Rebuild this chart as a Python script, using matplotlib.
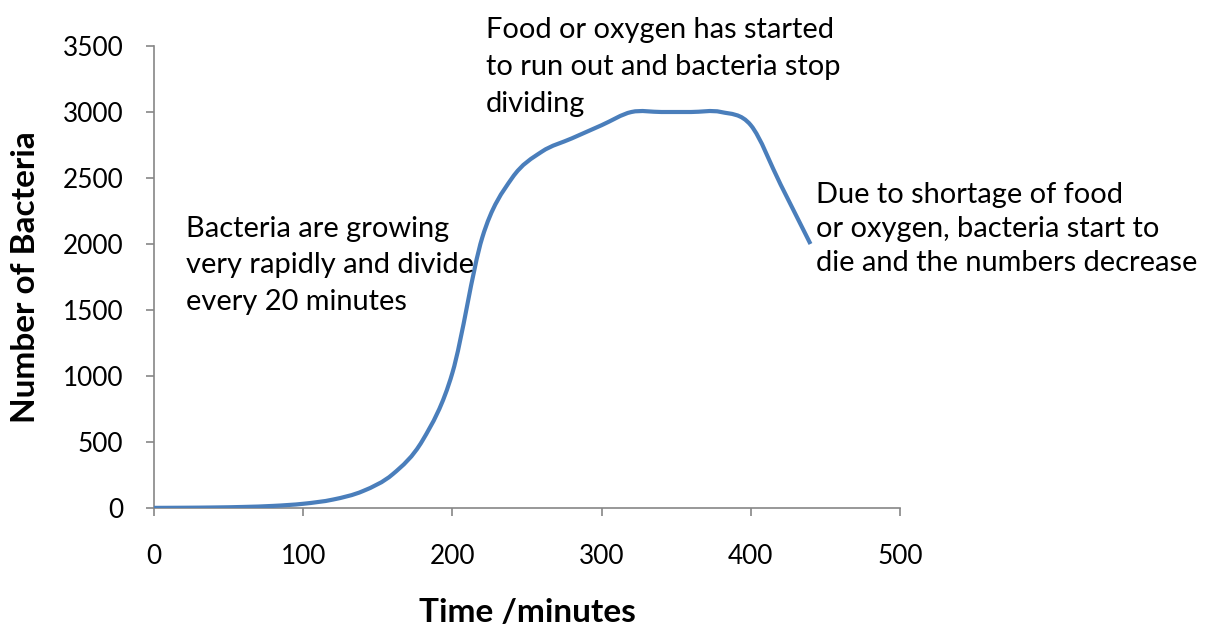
import matplotlib
matplotlib.use('Agg')
import matplotlib.pyplot as plt
from matplotlib.path import Path
from matplotlib.patches import PathPatch

plt.rcParams['font.family'] = ['Lato', 'DejaVu Sans']

# ---- data ----
time_min = [0, 20, 40, 60, 80, 100, 120, 140, 160, 180, 200, 220,
            240, 260, 280, 300, 320, 340, 360, 380, 400, 420, 440]
bacteria = [1, 2, 4, 8, 16, 32, 64, 128, 256, 512, 1024, 2048,
            2500, 2700, 2800, 2900, 3000, 3000, 3000, 3000, 2900, 2450, 2000]
x_ticks = [0, 100, 200, 300, 400, 500]
y_ticks = [0, 500, 1000, 1500, 2000, 2500, 3000, 3500]

note_growth = ['Bacteria are growing', 'very rapidly and divide', 'every 20 minutes']
note_plateau = ['Food or oxygen has started', 'to run out and bacteria stop', 'dividing']
note_decline = ['Due to shortage of food', 'or oxygen, bacteria start to', 'die and the numbers decrease']

W, H = 1211, 631
fig = plt.figure(figsize=(W / 100, H / 100), dpi=100)
ax = fig.add_axes([154 / W, 1 - 508 / H, (900 - 154) / W, (508 - 46) / H])

# smoothed line like a spreadsheet "smoothed line" (Catmull-Rom as bezier)
pts = list(zip(time_min, bacteria))
verts = [pts[0]]
codes = [Path.MOVETO]
n = len(pts)
for i in range(n - 1):
    p0 = pts[max(i - 1, 0)]
    p1 = pts[i]
    p2 = pts[i + 1]
    p3 = pts[min(i + 2, n - 1)]
    c1 = (p1[0] + (p2[0] - p0[0]) / 6, p1[1] + (p2[1] - p0[1]) / 6)
    c2 = (p2[0] - (p3[0] - p1[0]) / 6, p2[1] - (p3[1] - p1[1]) / 6)
    verts += [c1, c2, p2]
    codes += [Path.CURVE4] * 3
ax.add_patch(PathPatch(Path(verts, codes), fill=False, edgecolor='#4a7ebb',
                       lw=3.0, capstyle='butt', joinstyle='round', zorder=3))

ax.set_xlim(0, 500)
ax.set_ylim(0, 3500)
ax.set_xticks(x_ticks)
ax.set_yticks(y_ticks)
for s in ['top', 'right']:
    ax.spines[s].set_visible(False)
for s in ['left', 'bottom']:
    ax.spines[s].set_color('#868686')
    ax.spines[s].set_linewidth(1.2)
ax.tick_params(axis='both', direction='out', length=6, width=1.2, color='#868686',
               labelsize=18.8, labelcolor='black')
ax.tick_params(axis='y', pad=16)
ax.tick_params(axis='x', pad=20)
ax.set_xlabel('Time /minutes', fontsize=24, fontweight='bold', labelpad=21)
ax.set_ylabel('Number of Bacteria', fontsize=24, fontweight='bold', labelpad=16)

def note(lines, x, y0, dy):
    for k, line in enumerate(lines):
        fig.text(x / W, 1 - (y0 + k * dy) / H, line, fontsize=20.9,
                 ha='left', va='baseline')

note(note_growth, 186, 237, 36.5)
note(note_plateau, 486, 38, 37)
note(note_decline, 816, 203, 34)

fig.savefig('out.png', dpi=100)
